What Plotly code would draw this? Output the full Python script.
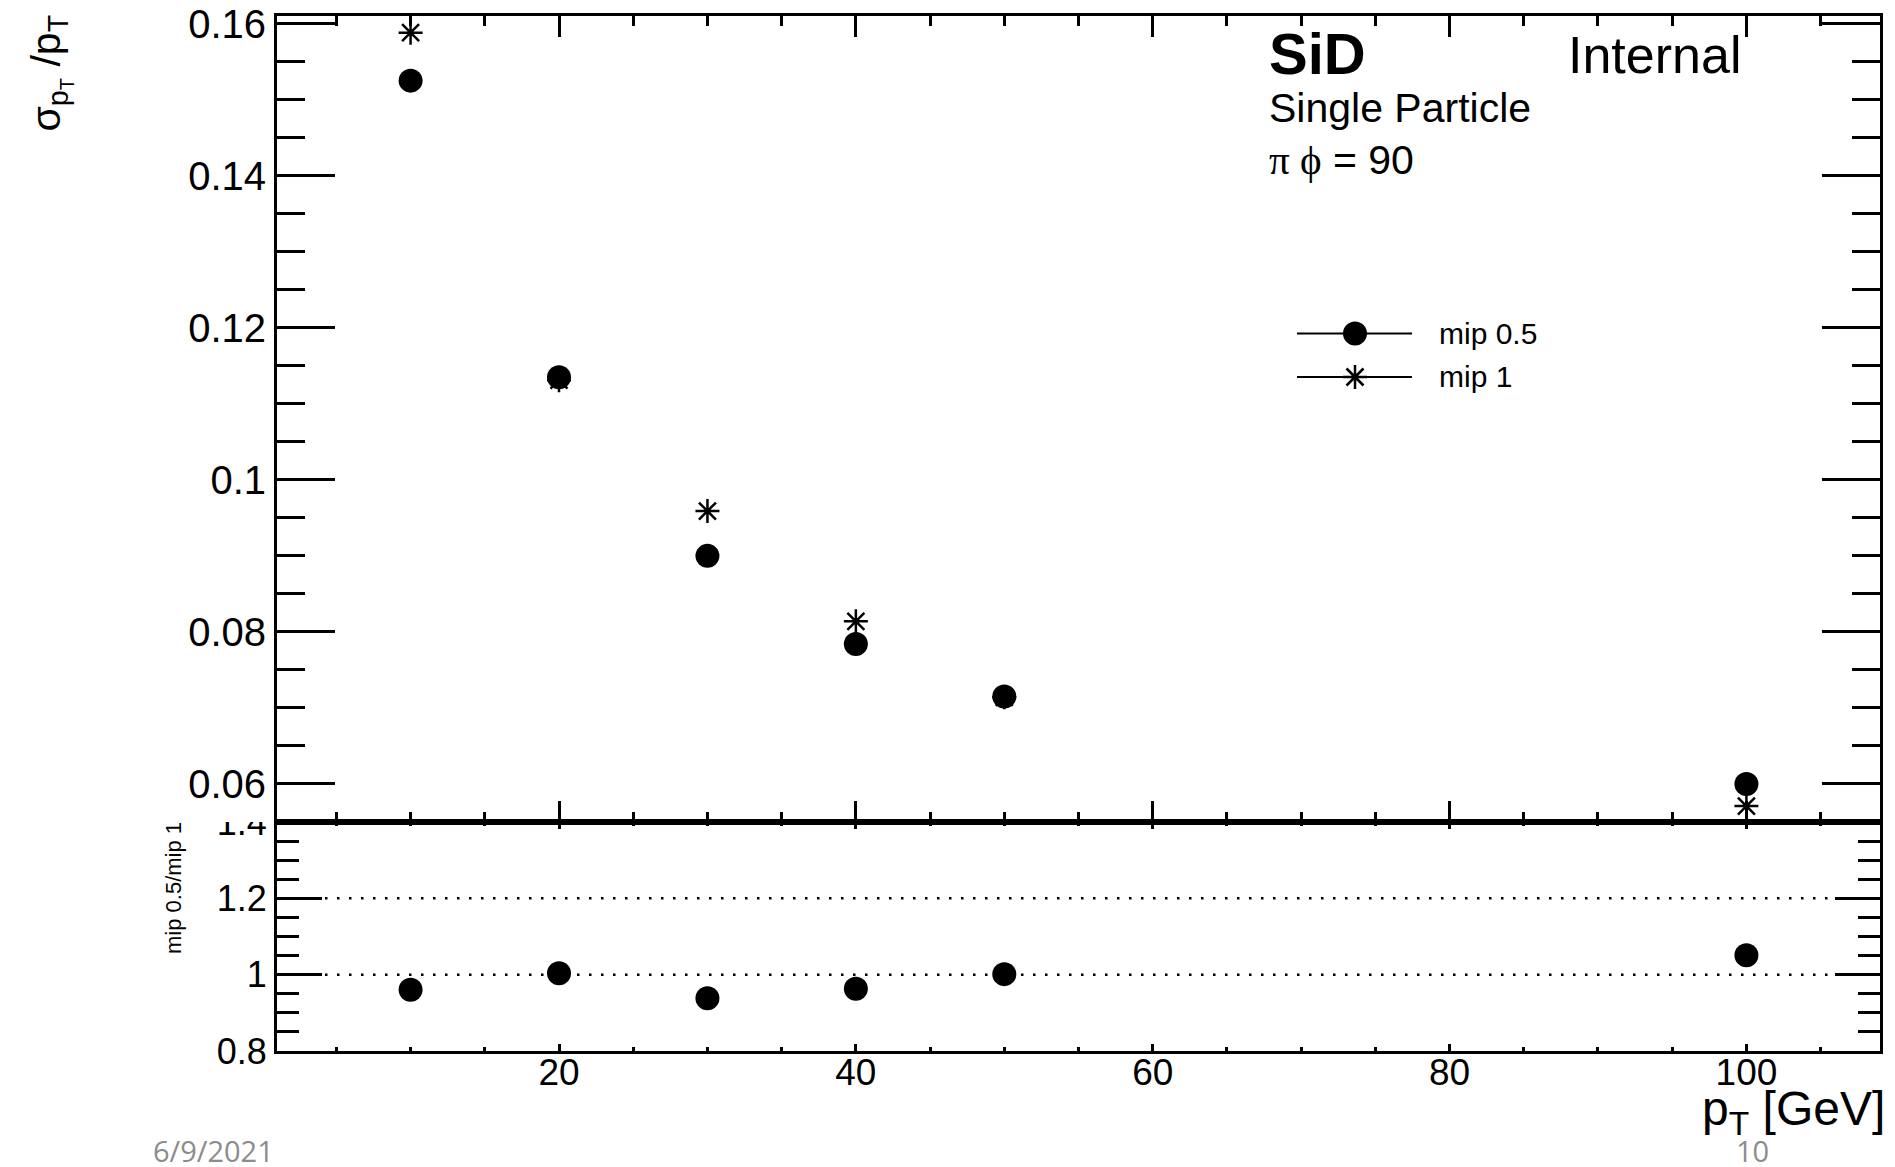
import plotly.graph_objects as go

# ---- data -------------------------------------------------------------
pt_gev = [10, 20, 30, 40, 50, 100]
res_mip05 = [0.1525, 0.1135, 0.0900, 0.0784, 0.0715, 0.0600]
res_mip1 = [0.1588, 0.1131, 0.0959, 0.0814, 0.0714, 0.0571]
ratio = [a / b for a, b in zip(res_mip05, res_mip1)]

top_ticks = [0.06, 0.08, 0.10, 0.12, 0.14, 0.16]
top_ticktext = ["0.06", "0.08", "0.1", "0.12", "0.14", "0.16"]
low_ticks = [0.8, 1.0, 1.2, 1.4]
low_ticktext = ["0.8", "1", "1.2", "1.4"]
x_ticks = [20, 40, 60, 80, 100]
ref_lines = [1.0, 1.2]

series_names = ["mip 0.5", "mip 1"]

# ---- geometry ---------------------------------------------------------
W, H = 1895, 1167
L, R, T, B = 277, 1880, 16, 1051
PW, PH = R - L, B - T
split = (B - 822) / PH  # boundary between main pad and ratio pad


def px(xp):
    return (xp - L) / PW


def py(yp):
    return (B - yp) / PH


FONT = "Liberation Sans, Arial, Helvetica, sans-serif"
BLACK = "black"

fig = go.Figure()

circle = dict(symbol="circle", size=24, color=BLACK)
star = dict(symbol="asterisk-open", size=20, color=BLACK, line=dict(width=2.5, color=BLACK))

fig.add_trace(go.Scatter(x=pt_gev, y=res_mip1, mode="markers", marker=star,
                         xaxis="x2", yaxis="y", name=series_names[1]))
fig.add_trace(go.Scatter(x=pt_gev, y=res_mip05, mode="markers", marker=circle,
                         xaxis="x2", yaxis="y", name=series_names[0]))
fig.add_trace(go.Scatter(x=pt_gev, y=ratio, mode="markers", marker=circle,
                         xaxis="x", yaxis="y2", name="ratio"))

# legend key (line + marker) drawn on a hidden full-frame axis
leg_x_marker = px(1355)
leg_rows = [py(333.5), py(377)]
fig.add_trace(go.Scatter(x=[leg_x_marker], y=[leg_rows[0]], mode="markers", marker=circle,
                         xaxis="x3", yaxis="y3", hoverinfo="skip"))
fig.add_trace(go.Scatter(x=[leg_x_marker], y=[leg_rows[1]], mode="markers", marker=star,
                         xaxis="x3", yaxis="y3", hoverinfo="skip"))

shapes = []
for yl in leg_rows:
    shapes.append(dict(type="line", xref="paper", yref="paper", x0=px(1297), x1=px(1412),
                       y0=yl, y1=yl, line=dict(color=BLACK, width=2), layer="below"))
for v in ref_lines:
    shapes.append(dict(type="line", xref="x domain", yref="y2", x0=0, x1=1, y0=v, y1=v,
                       line=dict(color=BLACK, width=2.5, dash="2.5px,9.5px"), layer="below"))
# main pad covers the upper part of the ratio pad's top label
shapes.append(dict(type="rect", xref="paper", yref="paper", x0=px(120), x1=px(272),
                   y0=split, y1=py(802), fillcolor="white", line=dict(width=0), layer="above"))

axis_common = dict(showline=True, linewidth=3, linecolor=BLACK, mirror="ticks",
                   ticks="inside", tickwidth=2.5, tickcolor=BLACK, showgrid=False,
                   zeroline=False, automargin=False,
                   tickfont=dict(family=FONT, size=37, color=BLACK))

fig.update_layout(
    width=W, height=H,
    margin=dict(l=L, r=W - R, t=T, b=H - B, autoexpand=False),
    paper_bgcolor="white", plot_bgcolor="rgba(0,0,0,0)",
    showlegend=False,
    font=dict(family=FONT, color=BLACK),
    xaxis=dict(domain=[0, 1], anchor="y2", range=[1, 109], tickvals=x_ticks,
               ticklen=7, ticklabelstandoff=-13,
               minor=dict(dtick=5, tick0=0, ticks="inside", ticklen=4,
                          tickwidth=2.5, tickcolor=BLACK),
               **axis_common),
    xaxis2=dict(domain=[0, 1], anchor="y", range=[1, 109], matches="x", tickvals=x_ticks,
                showticklabels=False, ticklen=21,
                minor=dict(dtick=5, tick0=0, ticks="inside", ticklen=10,
                           tickwidth=2.5, tickcolor=BLACK),
                **axis_common),
    yaxis=dict(domain=[split, 1], anchor="x2", range=[0.055, 0.161],
               tickvals=top_ticks, ticktext=top_ticktext, ticklen=58,
               minor=dict(dtick=0.005, tick0=0, ticks="inside", ticklen=28,
                          tickwidth=2.5, tickcolor=BLACK),
               **{**axis_common, "tickfont": dict(family=FONT, size=40, color=BLACK)}),
    yaxis2=dict(domain=[0, split], anchor="x", range=[0.8, 1.4],
                tickvals=low_ticks, ticktext=low_ticktext, ticklen=45,
                minor=dict(dtick=0.05, tick0=0, ticks="inside", ticklen=22,
                           tickwidth=2.5, tickcolor=BLACK),
                **{**axis_common, "tickfont": dict(family=FONT, size=36, color=BLACK)}),
    xaxis3=dict(domain=[0, 1], anchor="y3", range=[0, 1], visible=False, fixedrange=True,
                automargin=False),
    yaxis3=dict(domain=[0, 1], anchor="x3", range=[0, 1], visible=False, fixedrange=True,
                automargin=False),
    shapes=shapes,
)


def note(text, x, y, size, xanchor="left", yanchor="middle", angle=0, color=BLACK, family=FONT):
    fig.add_annotation(text=text, xref="paper", yref="paper", x=x, y=y, showarrow=False,
                       xanchor=xanchor, yanchor=yanchor, textangle=angle,
                       font=dict(family=family, size=size, color=color))


# axis titles
note("σ<sub>p<sub>T</sub></sub> /p<sub>T</sub>", px(50), py(12), 41,
     xanchor="center", yanchor="top", angle=-90)
note("mip 0.5/mip 1", px(173), py(956), 22, xanchor="center", yanchor="bottom", angle=-90)
note("p<sub>T</sub> [GeV]", px(1887), py(1112), 48, xanchor="right")

# labels inside the main pad
note("<b>SiD</b>", px(1267), py(54), 58)
note("Internal", px(1566), py(55), 52)
note("Single Particle", px(1267), py(108), 41)
note("<span style='font-family:Liberation Serif'>π ϕ</span> = 90", px(1267), py(160), 41)

# legend labels
for name, yl in zip(series_names, leg_rows):
    note(name, px(1437), yl, 30)

# slide footer
note("6/9/2021", px(151), py(1150), 29, color="#8c8c8c", family="Open Sans, sans-serif")
note("10", px(1752), py(1150), 29, xanchor="center", color="#8c8c8c",
     family="Open Sans, sans-serif")

fig.write_html("out.html")
